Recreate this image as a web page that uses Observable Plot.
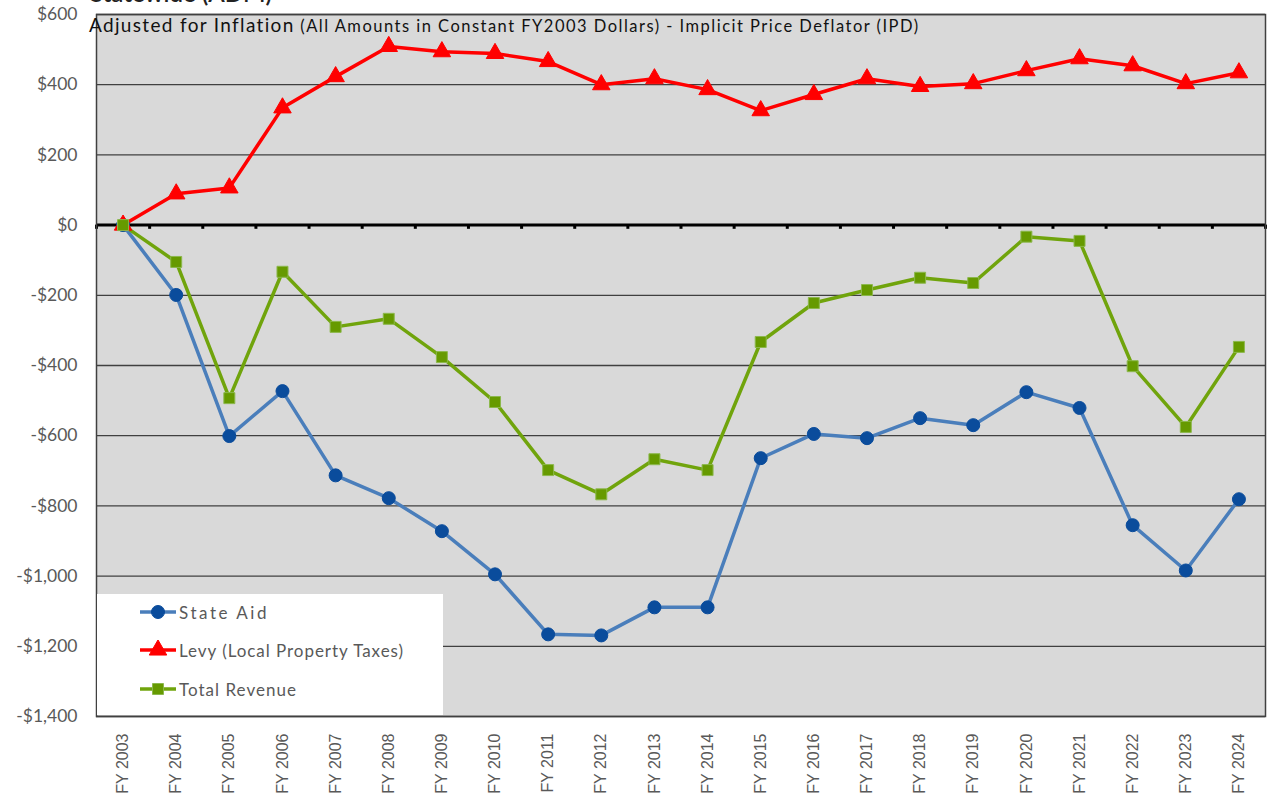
<!DOCTYPE html>
<html>
<head>
<meta charset="utf-8">
<script src="https://cdn.jsdelivr.net/npm/d3@7"></script>
<script src="https://cdn.jsdelivr.net/npm/@observablehq/plot@0.6"></script>
<style>
  html, body { margin: 0; padding: 0; background: #fff; overflow: hidden; }
  #wrap { position: relative; width: 1267px; height: 804px; overflow: hidden; }
  #title { position: absolute; left: 90px; top: -22px; font: 600 24px Lato, sans-serif; color: #222; white-space: nowrap; }
  #subtitle { position: absolute; left: 89px; top: 13px; font-family: Lato, sans-serif; color: #111; white-space: nowrap; z-index: 2; }
  #subtitle .big { font-size: 19px; }
  #subtitle .small { font-size: 16.5px; }
  #legend { position: absolute; left: 97px; top: 594px; width: 346px; height: 121px; background: #fff; z-index: 2;
            font: 17px Lato, sans-serif; color: #595959; }
  .row { position: absolute; left: 43px; height: 20px; display: flex; align-items: center; }
  .row svg { margin-right: 3px; }
</style>
</head>
<body>
<div id="wrap">
  <div id="title">Statewide (ADM)</div>
  <div id="subtitle"><span class="big">Adjusted for Inflation</span><span class="small"> (All Amounts in Constant FY2003 Dollars) - Implicit Price Deflator (IPD)</span></div>
  <div id="legend"></div>
  <div id="chart"></div>
</div>
<script>
const years = ["FY 2003","FY 2004","FY 2005","FY 2006","FY 2007","FY 2008","FY 2009","FY 2010","FY 2011","FY 2012","FY 2013","FY 2014","FY 2015","FY 2016","FY 2017","FY 2018","FY 2019","FY 2020","FY 2021","FY 2022","FY 2023","FY 2024"];
const stateAid = [0,-199,-601,-473,-713,-778,-872,-995,-1166,-1169,-1089,-1089,-664,-595,-607,-550,-570,-476,-521,-855,-984,-781];
const levy = [0,89,106,334,423,509,494,489,466,400,417,386,326,372,417,395,403,440,474,454,403,434];
const totalRevenue = [0,-105,-493,-133,-290,-267,-376,-504,-698,-767,-667,-698,-333,-222,-185,-150,-165,-33,-45,-402,-575,-347];
const seriesNames = ["State Aid","Levy (Local Property Taxes)","Total Revenue"];
const yTicks = [600,400,200,0,-200,-400,-600,-800,-1000,-1200,-1400];

const styles = {
  "State Aid": {line: "#4a7ebb", fill: "#0a4c9c", stroke: "#0a4c9c", symbol: "circle", r: 6.5},
  "Levy (Local Property Taxes)": {line: "#ff0000", fill: "#ff0000", stroke: "#ff0000", symbol: "triangle", r: 6.5},
  "Total Revenue": {line: "#70a40c", fill: "#669a00", stroke: "#8cb84c", symbol: "square", r: 6.2}
};

const seriesValues = [stateAid, levy, totalRevenue];
const data = [];
seriesNames.forEach((name, s) => {
  seriesValues[s].forEach((v, i) => data.push({series: name, i, year: years[i], value: v}));
});
const idx = years.map((_, i) => i);
const boundaries = d3.range(years.length + 1).map(i => i - 0.5);

const fmt = d3.format(",");
const money = d => d < 0 ? "-$" + fmt(-d) : "$" + fmt(d);

const marks = [
  Plot.frame({fill: "#d9d9d9"}),
  Plot.ruleY(yTicks.filter(d => d !== 0), {stroke: "#404040", strokeWidth: 1.3}),
  Plot.ruleY([0], {stroke: "#000", strokeWidth: 3}),
  Plot.ruleX(boundaries, {y1: 0, y2: -12, stroke: "#000", strokeWidth: 3}),
  Plot.frame({stroke: "#404040", strokeWidth: 1.5}),
  Plot.axisY({ticks: yTicks, tickFormat: money, tickSize: 0, tickPadding: 19, fontSize: 17.5, fill: "#595959", fontFamily: "Lato, sans-serif", label: null}),
  Plot.axisX({ticks: idx, tickFormat: i => years[i], tickRotate: -90, tickSize: 0, tickPadding: 17, fontSize: 16, fill: "#595959", fontFamily: "Liberation Sans, Arial, sans-serif", label: null})
];
seriesNames.forEach(name => {
  const st = styles[name];
  const d = data.filter(r => r.series === name);
  marks.push(Plot.line(d, {x: "i", y: "value", stroke: st.line, strokeWidth: 3.5}));
});
seriesNames.forEach(name => {
  const st = styles[name];
  const d = data.filter(r => r.series === name);
  marks.push(Plot.dot(d, {x: "i", y: "value", symbol: st.symbol, r: st.r, fill: st.fill, stroke: st.stroke, strokeWidth: 1}));
});

const chart = Plot.plot({
  width: 1267,
  height: 804,
  marginLeft: 96,
  marginRight: 2,
  marginTop: 14,
  marginBottom: 88,
  x: {type: "linear", domain: [-0.5, years.length - 0.5], axis: null, label: null},
  y: {domain: [-1400, 600], axis: null, label: null},
  style: {background: "transparent", fontFamily: "Lato, sans-serif"},
  marks
});
document.getElementById("chart").appendChild(chart);

// fit text spans to reference widths
function fit(el, target) {
  const n = el.textContent.length;
  const w = el.getBoundingClientRect().width;
  el.style.letterSpacing = ((target - w) / n) + "px";
}
fit(document.querySelector("#subtitle .big"), 206);
fit(document.querySelector("#subtitle .small"), 625);

// legend
const legend = document.getElementById("legend");
const rowTops = [8, 46, 85];
const legendWidths = [90, 225, 118];
seriesNames.forEach((name, k) => {
  const st = styles[name];
  const row = document.createElement("div");
  row.className = "row";
  row.style.top = rowTops[k] + "px";
  const svg = d3.create("svg").attr("width", 36).attr("height", 20);
  svg.append("line").attr("x1", 0).attr("x2", 36).attr("y1", 10).attr("y2", 10).attr("stroke", st.line).attr("stroke-width", 3.5);
  const sym = {circle: d3.symbolCircle, triangle: d3.symbolTriangle, square: d3.symbolSquare}[st.symbol];
  svg.append("path").attr("transform", "translate(18,10)").attr("d", d3.symbol(sym, Math.PI * st.r * st.r)())
    .attr("fill", st.fill).attr("stroke", st.stroke);
  row.appendChild(svg.node());
  const t = document.createElement("span");
  t.textContent = name;
  row.appendChild(t);
  legend.appendChild(row);
  fit(t, legendWidths[k]);
});
</script>
</body>
</html>
